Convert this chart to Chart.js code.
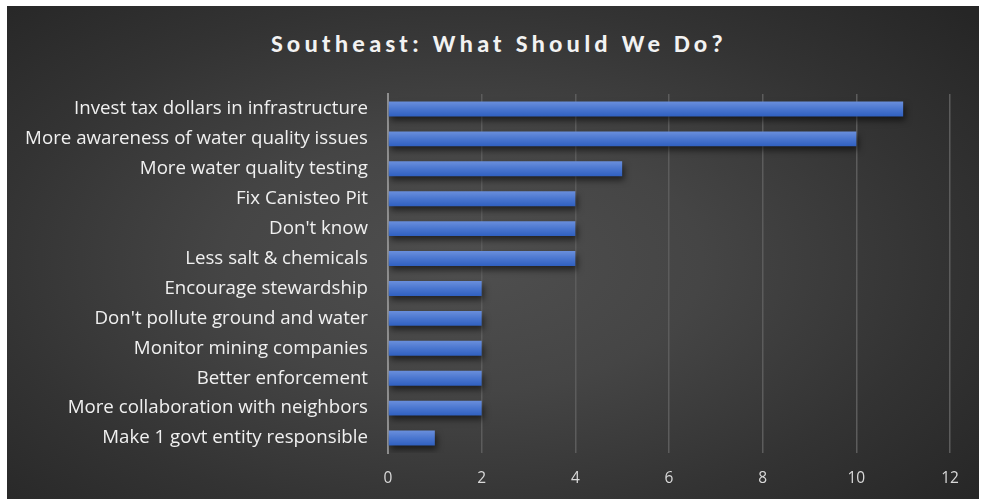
<!DOCTYPE html>
<html>
<head>
<meta charset="utf-8">
<script src="https://cdn.jsdelivr.net/npm/chart.js@4"></script>
<style>
  html, body { margin: 0; padding: 0; background: #ffffff; width: 981px; height: 501px; overflow: hidden; }
  #box {
    position: absolute; left: 7px; top: 6px; width: 972px; height: 493px;
    background: radial-gradient(ellipse 70% 75% at 47% 52%, #4f4f4f 0%, #454545 35%, #333333 70%, #262626 100%);
  }
  #title {
    position: absolute; left: 0; top: 22px; width: 984px; text-align: center;
    font-family: Carlito, Lato, "Open Sans", sans-serif; font-weight: bold; font-size: 25px;
    letter-spacing: 4.1px; color: #f2f2f2; margin: 0;
  }
  #cv { position: absolute; left: 0; top: 0; }
</style>
</head>
<body>
<div id="box">
  <h1 id="title">Southeast: What Should We Do?</h1>
  <canvas id="cv" width="972" height="493"></canvas>
</div>
<script>
const categories = [
  "Invest tax dollars in infrastructure",
  "More awareness of water quality issues",
  "More water quality testing",
  "Fix Canisteo Pit",
  "Don't know",
  "Less salt & chemicals",
  "Encourage stewardship",
  "Don't pollute ground and water",
  "Monitor mining companies",
  "Better enforcement",
  "More collaboration with neighbors",
  "Make 1 govt entity responsible"
];
const responses = [11, 10, 5, 4, 4, 4, 2, 2, 2, 2, 2, 1];
const xTicks = [0, 2, 4, 6, 8, 10, 12];

const FONT = '"Open Sans", "Noto Sans", sans-serif';

const shadowPlugin = {
  id: 'barShadow',
  beforeDatasetsDraw(chart) {
    const ctx = chart.ctx;
    ctx.save();
    ctx.shadowColor = 'rgba(0,0,0,0.55)';
    ctx.shadowBlur = 6;
    ctx.shadowOffsetX = 2;
    ctx.shadowOffsetY = 4;
  },
  afterDatasetsDraw(chart) {
    chart.ctx.restore();
  }
};

function barFill(context) {
  const chart = context.chart;
  const yScale = chart.scales.y;
  if (!yScale || context.dataIndex === undefined) return '#4a76cf';
  const c = yScale.getPixelForValue(context.dataIndex);
  if (!isFinite(c)) return '#4a76cf';
  const half = 7.5;
  const g = chart.ctx.createLinearGradient(0, c - half, 0, c + half);
  g.addColorStop(0, '#6a8fdc');
  g.addColorStop(0.5, '#4a76cf');
  g.addColorStop(1, '#3060c0');
  return g;
}

new Chart(document.getElementById('cv'), {
  type: 'bar',
  data: {
    labels: categories,
    datasets: [{
      data: responses,
      backgroundColor: barFill,
      borderWidth: 0,
      barPercentage: 0.5,
      categoryPercentage: 1.0
    }]
  },
  options: {
    indexAxis: 'y',
    responsive: false,
    animation: false,
    layout: { padding: { top: 88, right: 29, bottom: 16, left: 0 } },
    plugins: { legend: { display: false }, tooltip: { enabled: false } },
    scales: {
      x: {
        min: 0, max: 12,
        afterBuildTicks(scale) { scale.ticks = xTicks.map(v => ({ value: v })); },
        grid: { color: '#5c5c5c', lineWidth: 1.5, drawTicks: false },
        border: { display: false },
        ticks: { color: '#d9d9d9', font: { family: FONT, size: 15.5 }, padding: 16 },
        afterFit(scale) { scale.height = 30; }
      },
      y: {
        grid: { display: false, drawTicks: false },
        border: { display: true, color: '#8e8e8e', width: 2 },
        ticks: { color: '#f0f0f0', font: { family: FONT, size: 18.7 }, padding: 20, autoSkip: false },
        afterFit(scale) { scale.width = 381; }
      }
    }
  },
  plugins: [shadowPlugin]
});
</script>
</body>
</html>
